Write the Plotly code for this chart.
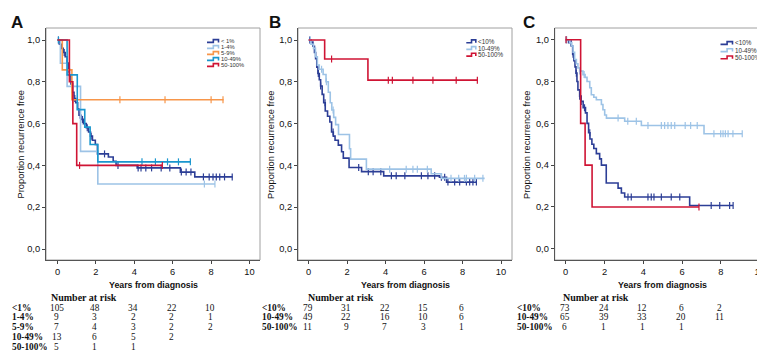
import plotly.graph_objects as go

W, H = 765, 352

DARK = "#2C3E96"
LIGHT = "#9DC3E6"
ORANGE = "#F7964A"
TEAL = "#1A96CE"
RED = "#CF1434"

# ---------------- Panel A : Kaplan-Meier steps ----------------
A_lt1_times = [0.10, 0.20, 0.30, 0.40, 0.50, 0.56, 0.62, 0.70, 0.78, 0.86, 0.95, 1.05, 1.12, 1.22,
               1.35, 1.50, 1.62, 1.72, 1.82, 1.97, 2.08, 2.65, 2.90, 3.05, 4.15, 6.40, 7.15]
A_lt1_surv = [0.98, 0.96, 0.94, 0.92, 0.89, 0.86, 0.83, 0.79, 0.75, 0.72, 0.70, 0.67, 0.64, 0.62,
              0.60, 0.58, 0.56, 0.54, 0.52, 0.50, 0.455, 0.44, 0.42, 0.40, 0.388, 0.368, 0.345]
A_lt1_end = 9.12
A_lt1_cens = [0.05, 0.35, 0.6, 0.9, 1.18, 1.3, 1.55, 1.75, 2.45, 3.15, 4.2, 4.35, 4.6, 4.9, 5.4,
              5.85, 6.45, 6.7, 6.95, 7.6, 7.9, 8.1, 8.27, 8.45, 8.7, 9.1]

A_1to4_times = [0.15, 0.50, 1.20, 2.10]
A_1to4_surv = [0.889, 0.778, 0.467, 0.311]
A_1to4_end = 8.2
A_1to4_cens = [7.65, 8.2]

A_5to9_times = [0.25, 0.75]
A_5to9_surv = [0.857, 0.714]
A_5to9_end = 8.65
A_5to9_cens = [0.8, 3.25, 5.6, 8.0, 8.62]

A_10to49_times = [0.50, 1.03, 1.42, 1.70, 2.10]
A_10to49_surv = [0.833, 0.667, 0.583, 0.50, 0.417]
A_10to49_end = 6.95
A_10to49_cens = [0.05, 4.4, 5.1, 5.73, 6.3, 6.92]

A_50to100_times = [0.62, 0.80, 1.00]
A_50to100_surv = [0.8, 0.6, 0.4]
A_50to100_end = 5.46
A_50to100_cens = [1.15, 5.46]

# ---------------- Panel B ----------------
B_lt10_times = [0.12, 0.22, 0.30, 0.36, 0.42, 0.48, 0.55, 0.62, 0.70, 0.78, 0.86, 0.98, 1.10, 1.19,
                1.28, 1.37, 1.54, 1.71, 1.80, 2.10, 2.75, 3.90, 6.80, 7.17]
B_lt10_surv = [0.99, 0.97, 0.94, 0.91, 0.87, 0.84, 0.81, 0.78, 0.74, 0.70, 0.66, 0.635, 0.608, 0.56,
               0.54, 0.52, 0.497, 0.465, 0.435, 0.39, 0.37, 0.35, 0.343, 0.32]
B_lt10_end = 8.75
B_lt10_cens = [0.05, 0.5, 0.62, 0.85, 1.27, 2.6, 3.1, 3.35, 3.75, 4.3, 4.55, 5.0, 5.86, 6.2, 6.55,
               6.9, 7.07, 7.24, 7.59, 7.85, 8.2, 8.37, 8.54, 8.72]

B_10to49_times = [0.12, 0.25, 0.35, 0.45, 0.55, 0.75, 0.90, 1.02, 1.12, 1.20, 1.30, 1.40, 1.55,
                  2.12, 2.18, 3.00, 6.37, 6.90]
B_10to49_surv = [0.98, 0.96, 0.92, 0.88, 0.86, 0.835, 0.80, 0.75, 0.70, 0.665, 0.63, 0.595, 0.548,
                 0.48, 0.43, 0.382, 0.36, 0.338]
B_10to49_end = 9.15
B_10to49_cens = [0.08, 0.67, 0.92, 1.27, 4.21, 5.07, 5.42, 5.65, 6.17, 7.4, 7.8, 8.1, 8.2, 8.63, 9.06]

B_50to100_times = [0.83, 3.08]
B_50to100_surv = [0.909, 0.808]
B_50to100_end = 8.8
B_50to100_cens = [1.19, 4.14, 4.35, 5.42, 6.46, 7.67, 8.77]

# ---------------- Panel C ----------------
C_lt10_times = [0.15, 0.29, 0.36, 0.42, 0.48, 0.53, 0.58, 0.63, 0.72, 0.80, 0.90, 1.02, 1.10, 1.18,
                1.25, 1.35, 1.45, 1.58, 1.75, 1.84, 2.09, 2.70, 2.87, 3.04, 6.39]
C_lt10_surv = [0.986, 0.97, 0.93, 0.90, 0.87, 0.84, 0.80, 0.76, 0.73, 0.705, 0.675, 0.65, 0.60,
               0.555, 0.525, 0.50, 0.48, 0.455, 0.43, 0.40, 0.315, 0.29, 0.267, 0.248, 0.207]
C_lt10_end = 8.63
C_lt10_cens = [0.03, 0.28, 0.38, 0.55, 0.72, 0.8, 0.97, 1.24, 3.21, 3.38, 4.24, 4.41, 4.55, 4.93,
               5.44, 5.88, 7.5, 7.94, 8.45, 8.63]

C_10to49_times = [0.20, 0.30, 0.38, 0.46, 0.55, 0.63, 0.72, 0.89, 1.00, 1.10, 1.24, 1.32, 1.45,
                  1.58, 1.84, 1.92, 2.01, 2.10, 3.04, 3.90, 7.13]
C_10to49_surv = [0.985, 0.97, 0.94, 0.905, 0.885, 0.865, 0.85, 0.833, 0.82, 0.80, 0.77, 0.737,
                 0.725, 0.713, 0.69, 0.665, 0.64, 0.625, 0.61, 0.59, 0.55]
C_10to49_end = 9.1
C_10to49_cens = [0.05, 0.72, 0.95, 2.7, 3.2, 3.64, 4.24, 4.93, 5.1, 5.27, 5.44, 5.62, 6.16, 6.44,
                 6.78, 7.64, 7.99, 8.11, 8.23, 8.37, 8.62, 9.1]

C_50to100_times = [0.77, 1.00, 1.36]
C_50to100_surv = [0.6, 0.4, 0.2]
C_50to100_end = 6.87
C_50to100_cens = [0.02, 6.87]

# ---------------- Number at risk ----------------
risk_times = [0, 2, 4, 6, 8]
A_risk_labels = ["<1%", "1-4%", "5-9%", "10-49%", "50-100%"]
A_risk = [[105, 48, 34, 22, 10], [9, 3, 2, 2, 1], [7, 4, 3, 2, 2], [13, 6, 5, 2], [5, 1, 1]]
B_risk_labels = ["<10%", "10-49%", "50-100%"]
B_risk = [[79, 31, 22, 15, 6], [49, 22, 16, 10, 6], [11, 9, 7, 3, 1]]
C_risk_labels = ["<10%", "10-49%", "50-100%"]
C_risk = [[73, 24, 12, 6, 2], [65, 39, 33, 20, 11], [6, 1, 1, 1]]

A_legend = ["< 1%", "1-4%", "5-9%", "10-49%", "50-100%"]
BC_legend = ["<10%", "10-49%", "50-100%"]

y_tickvals = [0.0, 0.2, 0.4, 0.6, 0.8, 1.0]
y_ticktext = ["0,0", "0,2", "0,4", "0,6", "0,8", "1,0"]
x_tickvals = [0, 2, 4, 6, 8, 10]

panels = [
    dict(letter="A", frame=(38, 252), x0=49.5, ppy=19.2, ytop1=32.0, y0=241.0,
         series=[(A_legend[0], DARK, A_lt1_times, A_lt1_surv, A_lt1_end, A_lt1_cens),
                 (A_legend[1], LIGHT, A_1to4_times, A_1to4_surv, A_1to4_end, A_1to4_cens),
                 (A_legend[2], ORANGE, A_5to9_times, A_5to9_surv, A_5to9_end, A_5to9_cens),
                 (A_legend[3], TEAL, A_10to49_times, A_10to49_surv, A_10to49_end, A_10to49_cens),
                 (A_legend[4], RED, A_50to100_times, A_50to100_surv, A_50to100_end, A_50to100_cens)],
         risk_labels=A_risk_labels, risk=A_risk, label_x=2, nar_x=41,
         leg_x=199, leg_y=33.0, leg_dy=6.0, leg_w=11.5, leg_fs=5.8,
         ytitle_x=13, xtitle_x=145, letter_x=9),
    dict(letter="B", frame=(290, 504), x0=300.7, ppy=19.23, ytop1=32.0, y0=241.0,
         series=[(BC_legend[0], DARK, B_lt10_times, B_lt10_surv, B_lt10_end, B_lt10_cens),
                 (BC_legend[1], LIGHT, B_10to49_times, B_10to49_surv, B_10to49_end, B_10to49_cens),
                 (BC_legend[2], RED, B_50to100_times, B_50to100_surv, B_50to100_end, B_50to100_cens)],
         risk_labels=B_risk_labels, risk=B_risk, label_x=252, nar_x=297.5,
         leg_x=458.3, leg_y=33.3, leg_dy=6.7, leg_w=9.5, leg_fs=6.3,
         ytitle_x=263.5, xtitle_x=397, letter_x=266.5),
    dict(letter="C", frame=(546.7, 760.7), x0=557.7, ppy=19.4, ytop1=31.7, y0=240.8,
         series=[(BC_legend[0], DARK, C_lt10_times, C_lt10_surv, C_lt10_end, C_lt10_cens),
                 (BC_legend[1], LIGHT, C_10to49_times, C_10to49_surv, C_10to49_end, C_10to49_cens),
                 (BC_legend[2], RED, C_50to100_times, C_50to100_surv, C_50to100_end, C_50to100_cens)],
         risk_labels=C_risk_labels, risk=C_risk, label_x=507, nar_x=552.5,
         leg_x=712.5, leg_y=35.0, leg_dy=7.2, leg_w=12, leg_fs=6.3,
         ytitle_x=519.5, xtitle_x=654, letter_x=521),
]

FRAME_TOP, FRAME_BOT = 20.0, 252.0
ROW_Y = [299.7, 309.4, 319.1, 328.9, 338.6]


def px2x(p):
    return p / W


def py2y(p):
    return 1 - p / H


def km_xy(times, surv, end):
    return [0.0] + list(times) + [end], [1.0] + list(surv) + [surv[-1]]


def surv_at(t, times, surv):
    s = 1.0
    for ti, si in zip(times, surv):
        if ti <= t:
            s = si
    return s


fig = go.Figure()
annotations = []
shapes = []
layout_axes = {}

for i, p in enumerate(panels):
    n = "" if i == 0 else str(i + 1)
    xa, ya = "x" + n, "y" + n
    f0, f1 = p["frame"]
    ppu = p["y0"] - p["ytop1"]
    xr = [(f0 - p["x0"]) / p["ppy"], (f1 - p["x0"]) / p["ppy"]]
    yr = [(p["y0"] - FRAME_BOT) / ppu, (p["y0"] - FRAME_TOP) / ppu]
    layout_axes["xaxis" + n] = dict(
        domain=[px2x(f0), px2x(f1)], range=xr, anchor=ya,
        tickvals=x_tickvals, ticks="outside", ticklen=3, tickcolor="#444",
        showline=True, linecolor="#555", linewidth=1, showgrid=False, zeroline=False,
        tickfont=dict(family="Liberation Sans", size=9.3, color="#111"),
    )
    layout_axes["yaxis" + n] = dict(
        domain=[py2y(FRAME_BOT), py2y(FRAME_TOP)], range=yr, anchor=xa,
        tickvals=y_tickvals, ticktext=y_ticktext, ticks="outside", ticklen=3, tickcolor="#444",
        showline=True, linecolor="#555", linewidth=1, showgrid=False, zeroline=False,
        tickfont=dict(family="Liberation Sans", size=9.3, color="#111"),
    )
    # grey frame (top / right)
    shapes.append(dict(type="rect", xref=xa + " domain", yref=ya + " domain", x0=0, x1=1, y0=0, y1=1,
                       line=dict(color="#A0A0A0", width=1), layer="below"))

    for k, (name, col, times, surv, end, cens) in enumerate(p["series"]):
        xs, ys = km_xy(times, surv, end)
        fig.add_trace(go.Scatter(x=xs, y=ys, mode="lines", line=dict(color=col, width=1.6, shape="hv"),
                                 xaxis=xa, yaxis=ya, showlegend=False, name=name, hoverinfo="skip"))
        fig.add_trace(go.Scatter(x=cens, y=[surv_at(t, times, surv) for t in cens], mode="markers",
                                 marker=dict(symbol="line-ns", size=5, line=dict(color=col, width=1.2)),
                                 xaxis=xa, yaxis=ya, showlegend=False, name=name, hoverinfo="skip"))
        # legend entry (small step icon + text)
        cy = p["leg_y"] + k * p["leg_dy"]
        lx0 = p["leg_x"]
        lx1 = lx0 + p["leg_w"]
        lxm = lx0 + 0.55 * p["leg_w"]
        path = "M {a},{b} L {c},{b} L {c},{d} L {e},{d} L {e},{b}".format(
            a=px2x(lx0), b=py2y(cy + 1.4), c=px2x(lxm), d=py2y(cy - 1.4), e=px2x(lx1))
        shapes.append(dict(type="path", xref="paper", yref="paper", path=path,
                           line=dict(color=col, width=1.6)))
        annotations.append(dict(x=px2x(lx1 + 0.5), y=py2y(cy), xref="paper", yref="paper", text=name,
                                showarrow=False, xanchor="left", yanchor="middle",
                                font=dict(family="Liberation Sans", size=p["leg_fs"], color="#333")))

    # panel letter
    annotations.append(dict(x=px2x(p["letter_x"]), y=py2y(14), xref="paper", yref="paper",
                            text="<b>%s</b>" % p["letter"], showarrow=False, xanchor="center",
                            yanchor="middle", font=dict(family="Liberation Sans", size=17, color="#111")))
    # axis titles
    annotations.append(dict(x=px2x(p["ytitle_x"]), y=py2y(136.5), xref="paper", yref="paper",
                            text="Proportion recurrence free", textangle=-90, showarrow=False,
                            xanchor="center", yanchor="middle",
                            font=dict(family="Liberation Sans", size=9.3, color="#111")))
    annotations.append(dict(x=px2x(p["xtitle_x"]), y=py2y(276.7), xref="paper", yref="paper",
                            text="<b>Years from diagnosis</b>", showarrow=False,
                            xanchor="center", yanchor="middle",
                            font=dict(family="Liberation Sans", size=8.8, color="#111")))
    # number at risk
    annotations.append(dict(x=px2x(p["nar_x"]), y=py2y(289.3), xref="paper", yref="paper",
                            text="<b>Number at risk</b>", showarrow=False, xanchor="left", yanchor="middle",
                            font=dict(family="Liberation Serif", size=10, color="#111")))
    for r, (lab, vals) in enumerate(zip(p["risk_labels"], p["risk"])):
        annotations.append(dict(x=px2x(p["label_x"]), y=py2y(ROW_Y[r]), xref="paper", yref="paper",
                                text="<b>%s</b>" % lab, showarrow=False, xanchor="left", yanchor="middle",
                                font=dict(family="Liberation Serif", size=9.3, color="#111")))
        for t, v in zip(risk_times, vals):
            annotations.append(dict(x=t, y=py2y(ROW_Y[r]), xref=xa, yref="paper", text=str(v),
                                    showarrow=False, xanchor="center", yanchor="middle", xshift=-1,
                                    font=dict(family="Liberation Serif", size=9.3, color="#111")))

fig.update_layout(
    width=W, height=H, margin=dict(l=0, r=0, t=0, b=0),
    paper_bgcolor="white", plot_bgcolor="white",
    showlegend=False, annotations=annotations, shapes=shapes, **layout_axes,
)

fig.write_html("out.html")
